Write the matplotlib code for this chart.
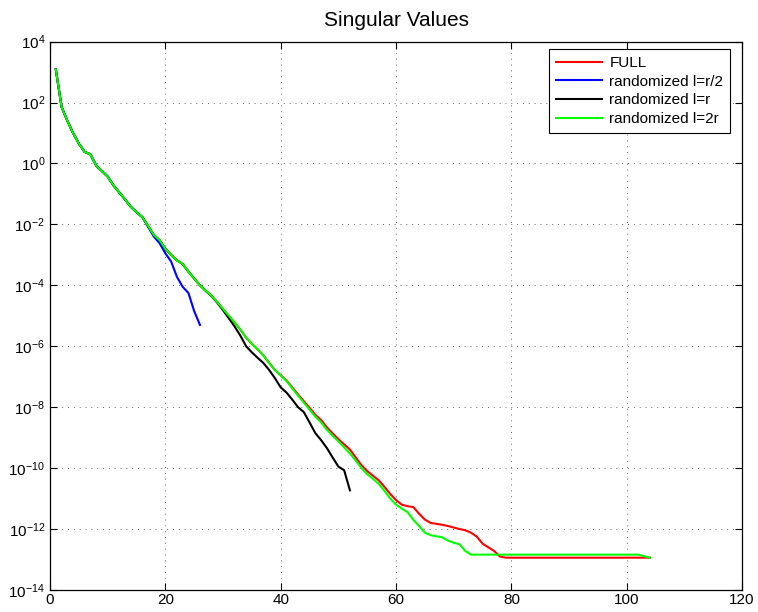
import numpy as np
import matplotlib
matplotlib.use("Agg")
import matplotlib.pyplot as plt
from matplotlib.ticker import FixedLocator, NullLocator

plt.rcParams['font.family'] = ['Liberation Sans', 'DejaVu Sans']
plt.rcParams['mathtext.fontset'] = 'custom'
plt.rcParams['mathtext.rm'] = 'Liberation Sans'
plt.rcParams['mathtext.it'] = 'Liberation Sans:italic'

# log10 of the singular values, index starts at 1
full_log10 = [3.09, 1.86, 1.40, 1.00, 0.65, 0.38, 0.30, -0.07, -0.25, -0.43,
              -0.72, -0.95, -1.18, -1.42, -1.60, -1.76, -2.05, -2.35, -2.52, -2.80,
              -3.00, -3.18, -3.30, -3.55, -3.78, -4.00, -4.18, -4.35, -4.55, -4.78,
              -5.00, -5.22, -5.45, -5.72, -5.92, -6.10, -6.30, -6.55, -6.78, -6.95,
              -7.12, -7.35, -7.58, -7.80, -8.02, -8.25, -8.42, -8.66, -8.86, -9.05,
              -9.22, -9.39, -9.65, -9.90, -10.10, -10.25, -10.40, -10.62, -10.85, -11.05,
              -11.20, -11.25, -11.28, -11.50, -11.69, -11.80, -11.83, -11.86, -11.90, -11.95,
              -12.00, -12.04, -12.12, -12.25, -12.48, -12.60, -12.72, -12.90, -12.94, -12.94,
              -12.94, -12.94, -12.94, -12.94, -12.94, -12.94, -12.94, -12.94, -12.94, -12.94,
              -12.94, -12.94, -12.94, -12.94, -12.94, -12.94, -12.94, -12.94, -12.94, -12.94,
              -12.94, -12.94, -12.94, -12.94]

half_log10 = [3.09, 1.86, 1.40, 1.00, 0.65, 0.38, 0.30, -0.07, -0.25, -0.43,
              -0.72, -0.95, -1.18, -1.42, -1.60, -1.76, -2.08, -2.40, -2.62, -2.95,
              -3.22, -3.72, -4.05, -4.25, -4.85, -5.30]

r_log10 = [3.09, 1.86, 1.40, 1.00, 0.65, 0.38, 0.30, -0.07, -0.25, -0.43,
           -0.72, -0.95, -1.18, -1.42, -1.60, -1.76, -2.05, -2.35, -2.52, -2.80,
           -3.00, -3.18, -3.30, -3.55, -3.78, -4.00, -4.18, -4.35, -4.57, -4.82,
           -5.08, -5.35, -5.65, -6.00, -6.20, -6.38, -6.55, -6.78, -7.05, -7.35,
           -7.52, -7.75, -8.00, -8.16, -8.50, -8.85, -9.08, -9.34, -9.65, -9.95,
           -10.07, -10.73]

twor_log10 = [3.09, 1.86, 1.40, 1.00, 0.65, 0.38, 0.30, -0.07, -0.25, -0.43,
              -0.72, -0.95, -1.18, -1.42, -1.60, -1.76, -2.05, -2.35, -2.52, -2.80,
              -3.00, -3.18, -3.30, -3.55, -3.78, -4.00, -4.18, -4.35, -4.55, -4.78,
              -5.00, -5.22, -5.45, -5.72, -5.92, -6.10, -6.30, -6.55, -6.78, -6.96,
              -7.14, -7.38, -7.62, -7.85, -8.08, -8.31, -8.50, -8.74, -8.94, -9.12,
              -9.32, -9.52, -9.75, -10.00, -10.20, -10.35, -10.52, -10.75, -11.00, -11.20,
              -11.33, -11.45, -11.70, -11.90, -12.12, -12.20, -12.24, -12.27, -12.38, -12.45,
              -12.50, -12.72, -12.84, -12.84, -12.84, -12.84, -12.84, -12.84, -12.84, -12.84,
              -12.84, -12.84, -12.84, -12.84, -12.84, -12.84, -12.84, -12.84, -12.84, -12.84,
              -12.84, -12.84, -12.84, -12.84, -12.84, -12.84, -12.84, -12.84, -12.84, -12.84,
              -12.84, -12.84, -12.89, -12.94]

labels = ["FULL", "randomized l=r/2", "randomized l=r", "randomized l=2r"]
colors = ["#ff0000", "#0000ff", "#000000", "#00ff00"]
series = [full_log10, half_log10, r_log10, twor_log10]

x_ticks = [0, 20, 40, 60, 80, 100, 120]
y_tick_exps = [-14, -12, -10, -8, -6, -4, -2, 0, 2, 4]

fig = plt.figure(figsize=(7.58, 6.12), dpi=100)
ax = fig.add_axes([0.066, 0.036, 0.913, 0.896])

for lab, col, s in zip(labels, colors, series):
    idx = np.arange(1, len(s) + 1)
    ax.semilogy(idx, 10.0 ** np.array(s), color=col, lw=1.5, label=lab)

ax.set_xlim(0, 120)
ax.set_ylim(1e-14, 1e4)
ax.set_xticks(x_ticks)
ax.yaxis.set_major_locator(FixedLocator([10.0 ** e for e in y_tick_exps]))
ax.yaxis.set_minor_locator(NullLocator())
ax.set_yticklabels([r"$10^{%d}$" % e for e in y_tick_exps])
ax.tick_params(direction='in', top=True, right=True, labelsize=11, length=5, width=0.8)
ax.tick_params(axis='x', pad=2)
ax.grid(True, which='major', color='black', linestyle=(0, (1, 5)), linewidth=0.7, alpha=0.6)
for sp in ax.spines.values():
    sp.set_linewidth(0.9)

ax.set_title("Singular Values", fontsize=15, pad=11)

leg = ax.legend(loc='upper right', bbox_to_anchor=(0.983, 0.986), borderaxespad=0.0,
                fontsize=11, fancybox=False, framealpha=1, edgecolor='black',
                handlelength=3.0, handletextpad=0.5, borderpad=0.45, labelspacing=0.3)
leg.get_frame().set_linewidth(0.8)

fig.savefig("out.png", dpi=100)
